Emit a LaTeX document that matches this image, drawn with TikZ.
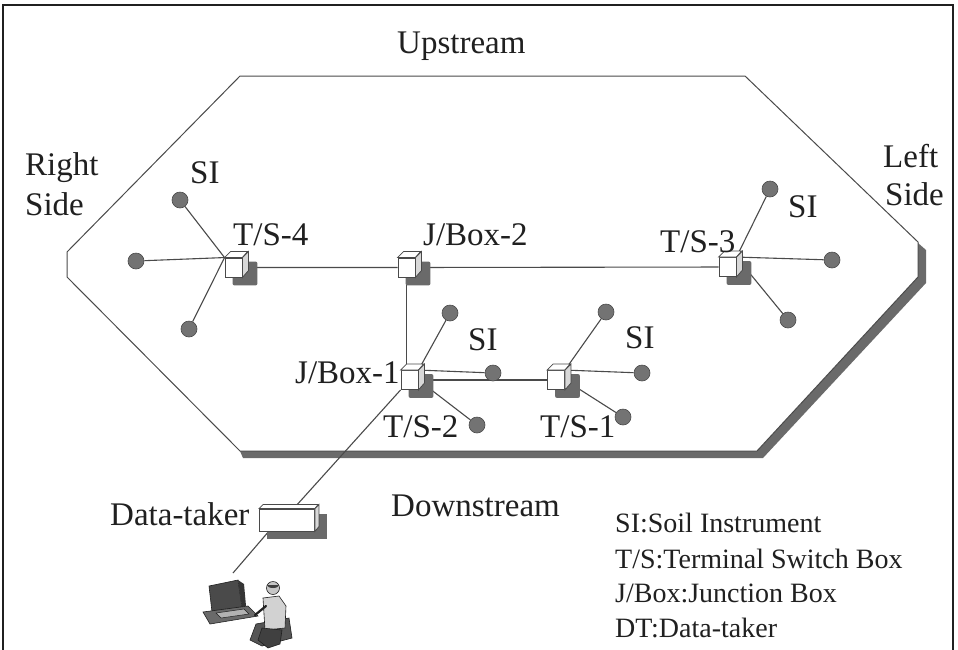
\documentclass[tikz,border=0pt]{standalone}
\usepackage{fontspec}
\setmainfont{Liberation Serif}
\usetikzlibrary{calc}
\pgfdeclarelayer{back}
\pgfdeclarelayer{wires}
\pgfsetlayers{back,wires,main}
\definecolor{ink}{HTML}{202020}
\definecolor{edge}{HTML}{4A4A4A}
\definecolor{shadowgray}{HTML}{6A6A6A}
\definecolor{dotfill}{HTML}{737373}
\definecolor{sidefill}{HTML}{D8D8D8}
\begin{document}
\begin{tikzpicture}[x=1pt,y=-1pt,
  lbl/.style={inner sep=0pt, anchor=base west, text=ink, font=\fontsize{33}{36}\selectfont},
  key/.style={inner sep=0pt, anchor=base west, text=ink, font=\fontsize{28}{30}\selectfont},
  cube/.style={draw=edge, fill=white, line width=0.9pt, minimum width=17pt, minimum height=19pt, inner sep=0pt},
  logger/.style={draw=edge, fill=white, line width=0.9pt, minimum width=55pt, minimum height=22pt, inner sep=0pt},
  dot/.style={circle, draw=edge, fill=dotfill, line width=0.6pt, minimum size=16pt, inner sep=0pt},
  wire/.style={draw=edge, line width=1.1pt},
  outline/.style={draw=edge, line width=1pt},
]
\useasboundingbox (0,0) rectangle (958,649);

% paper, outer frame, site outline with its drop shadow
\begin{pgfonlayer}{back}
  \fill[white] (0,0) rectangle (958,649);
  \draw[draw=ink, line width=1.2pt] (3,660) -- (3,5) -- (953,5) -- (953,660);
  \fill[shadowgray] (918,243) -- (926,250) -- (926,283) -- (763,458) -- (243,458) -- (240,451) -- (757,451) -- (918,277) -- cycle;
  \filldraw[outline, fill=white] (240,76) -- (745,76) -- (918,242) -- (918,277) -- (757,451) -- (240,451) -- (67,277) -- (67,252) -- cycle;
\end{pgfonlayer}

% boxes
\node[cube] (ts4) at (233.5,267.5) {};
\node[cube] (jb2) at (406.5,267.5) {};
\node[cube] (ts3) at (727.5,267) {};
\node[cube] (jb1) at (409.5,380) {};
\node[cube] (ts1) at (556,380) {};
\node[logger] (dt) at (287,520) {};

% soil instruments
\node[dot] (s4a) at (180,200) {};
\node[dot] (s4b) at (136,261) {};
\node[dot] (s4c) at (189,329) {};
\node[dot] (s3a) at (770,189) {};
\node[dot] (s3b) at (832,260) {};
\node[dot] (s3c) at (788,320) {};
\node[dot] (s2a) at (450,313) {};
\node[dot] (s2b) at (493,373) {};
\node[dot] (s2c) at (477,425) {};
\node[dot] (s1a) at (606,312) {};
\node[dot] (s1b) at (642,373) {};
\node[dot] (s1c) at (623,417) {};

\coordinate (pc) at (233,573);

% cables
\begin{pgfonlayer}{wires}
  \draw[wire] (ts4) -- (jb2) -- (ts3);
  \draw[wire] (jb2) -- (jb2 |- jb1.north);
  \draw[wire] (jb1) -- (ts1);
  \draw[wire] (ts4.north west) -- (s4a);
  \draw[wire] (ts4.north west) -- (s4b);
  \draw[wire] (ts4.north west) -- (s4c);
  \draw[wire] (ts3.north east) -- (s3a);
  \draw[wire] (ts3.north east) -- (s3b);
  \draw[wire] (ts3.north east) -- (s3c);
  \draw[wire] (jb1.north east) -- (s2a);
  \draw[wire] (jb1.north east) -- (s2b);
  \draw[wire] (jb1.east) -- (s2c);
  \draw[wire] (ts1.north east) -- (s1a);
  \draw[wire] (ts1.north east) -- (s1b);
  \draw[wire] (ts1.east) -- (s1c);
  \draw[wire] (jb1.south west) -- (dt.60);
  \draw[wire] (dt.212) -- (pc);
  % box shadows
  \foreach \n in {ts4,jb2,ts3,jb1,ts1}{
    \fill[shadowgray, rounded corners=2pt] ($(\n.north west)+(8,4)$) rectangle ($(\n.south east)+(15,8)$);
  }
  \fill[shadowgray] ($(dt.north west)+(8,5)$) rectangle ($(dt.south east)+(12,8)$);
\end{pgfonlayer}

% top and side faces of the boxes
\foreach \n in {ts4,jb2,ts3,jb1,ts1}{
  \filldraw[draw=edge, fill=white, line width=0.8pt] (\n.north west) -- ++(6,-6) -- ++(17,0) -- (\n.north east) -- cycle;
  \filldraw[draw=edge, fill=sidefill, line width=0.8pt] (\n.north east) -- ++(6,-6) -- ++(0,19) -- (\n.south east) -- cycle;
}
\filldraw[draw=edge, fill=white, line width=0.8pt] (dt.north west) -- ++(4,-4) -- ++(55,0) -- (dt.north east) -- cycle;
\filldraw[draw=edge, fill=sidefill, line width=0.8pt] (dt.north east) -- ++(4,-4) -- ++(0,22) -- (dt.south east) -- cycle;

% operator at the computer
\filldraw[draw=ink, fill=shadowgray!70!black, line width=0.6pt] (209,586) -- (238,580) -- (242,607) -- (212,612) -- cycle;
\fill[shadowgray!50!black] (238,580) -- (244,584) -- (246,606) -- (242,607) -- cycle;
\filldraw[draw=ink, fill=shadowgray, line width=0.6pt] (203,612) -- (248,606) -- (258,616) -- (210,624) -- cycle;
\filldraw[draw=ink, fill=gray!60, line width=0.5pt] (216,613) -- (244,609) -- (249,614) -- (221,618) -- cycle;
\filldraw[draw=ink, fill=shadowgray!80!black, line width=0.6pt] (256,624) -- (289,618) -- (292,638) -- (262,646) -- (250,640) -- cycle;
\filldraw[draw=ink, fill=gray!35, line width=0.6pt] (263,598) -- (279,596) -- (286,606) -- (285,628) -- (265,630) -- cycle;
\draw[ink, line width=2.2pt, line cap=round] (266,606) -- (255,615);
\filldraw[draw=ink, fill=gray!45, line width=0.6pt] (273,588) circle (6.5pt);
\fill[shadowgray!60!black] (267,585) arc (180:360:6pt and 3pt) -- cycle;
\filldraw[draw=ink, fill=shadowgray!60!black, line width=0.6pt] (262,628) -- (282,630) -- (280,644) -- (268,648) -- (258,640) -- cycle;

% labels
\node[lbl] (up) at (397,53) {Upstream};
\node[lbl] (rs1) at (25,175) {Right};
\node[lbl] (rs2) at (25,215) {Side};
\node[lbl] (ls1) at (883,167) {Left};
\node[lbl] (ls2) at (885,205) {Side};
\node[lbl] (si4) at (190,183) {SI};
\node[lbl] (lts4) at (233,245) {T/S-4};
\node[lbl] (ljb2) at (423,245) {J/Box-2};
\node[lbl] (lts3) at (660,252) {T/S-3};
\node[lbl] (si3) at (788,217) {SI};
\node[lbl] (si2) at (468,350) {SI};
\node[lbl] (ljb1) at (295,383) {J/Box-1};
\node[lbl] (lts2) at (383,437) {T/S-2};
\node[lbl] (si1) at (625,348) {SI};
\node[lbl] (lts1) at (540,437) {T/S-1};
\node[lbl] (down) at (391,516) {Downstream};
\node[lbl] (ldt) at (110,525) {Data-taker};

% legend
\node[key] (k1) at (615,532) {SI:Soil Instrument};
\node[key] (k2) at (615,568) {T/S:Terminal Switch Box};
\node[key] (k3) at (615,602) {J/Box:Junction Box};
\node[key] (k4) at (615,637) {DT:Data-taker};
\end{tikzpicture}
\end{document}
